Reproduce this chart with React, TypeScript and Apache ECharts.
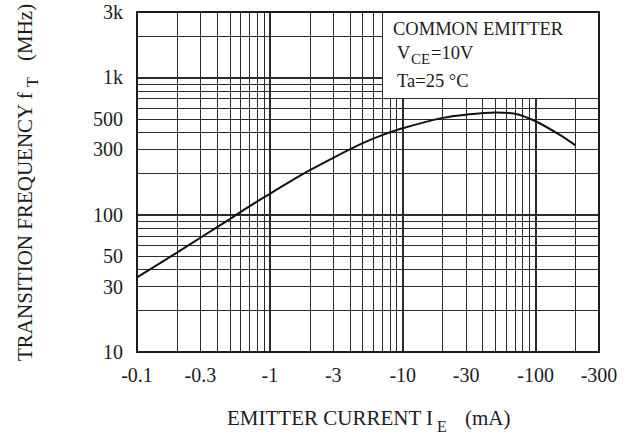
import React, { useEffect, useRef } from "react";
import * as echarts from "echarts";

// Emitter current magnitude (mA) — axis shows them as negative values
const currentMA = [0.1, 0.2, 0.3, 0.5, 0.7, 1, 1.5, 2, 3, 5, 7, 10, 20, 30, 50, 70, 100, 150, 200];
// Transition frequency fT (MHz)
const transitionMHz = [35, 53, 68, 93, 115, 142, 180, 211, 260, 332, 380, 427, 508, 536, 555, 545, 480, 385, 320];

const xLabelValues = [0.1, 0.3, 1, 3, 10, 30, 100, 300];
const xMinorLines = [0.2, 0.3, 0.4, 0.5, 0.6, 0.7, 0.8, 0.9, 2, 3, 4, 5, 6, 7, 8, 9, 20, 30, 40, 50, 60, 70, 80, 90, 200];
const xDecadeLines = [1, 10, 100];

const yLabelValues = [10, 30, 50, 100, 300, 500, 1000, 3000];
const yMinorLines = [20, 30, 40, 50, 60, 70, 80, 90, 200, 300, 400, 500, 600, 700, 800, 900, 2000];
const yDecadeLines = [100, 1000];

const FONT = "'Liberation Serif', 'Times New Roman', Times, serif";
const INK = "#1c1c1c";
const GRID = "#2b2b2b";

function fmtX(v: number): string {
  return "-" + String(Number(Number(v).toPrecision(3)));
}
function fmtY(v: number): string {
  const n = Number(Number(v).toPrecision(3));
  return n >= 1000 ? n / 1000 + "k" : String(n);
}

export default function App() {
  const ref = useRef<HTMLDivElement>(null);

  useEffect(() => {
    document.body.style.margin = "0";
    if (!ref.current) return;
    const chart = echarts.init(ref.current, undefined, { renderer: "svg" });

    const labelStyle = { fontFamily: FONT, fontSize: 20, color: INK };

    const option: any = {
      animation: false,
      backgroundColor: "#ffffff",
      grid: { left: 137, top: 12, right: 38, bottom: 86, containLabel: false, outerBoundsMode: "none" },
      xAxis: [
        {
          type: "log",
          logBase: 10,
          min: 0.1,
          max: 300,
          position: "bottom",
          axisLine: { show: true, onZero: false, lineStyle: { color: INK, width: 2 } },
          axisTick: { show: false, customValues: xMinorLines },
          axisLabel: {
            ...labelStyle,
            customValues: xLabelValues,
            formatter: fmtX,
            margin: 13,
            showMinLabel: true,
            showMaxLabel: true,
          },
          splitLine: { show: true, lineStyle: { color: GRID, width: 1 } },
          minorTick: { show: false },
          minorSplitLine: { show: false },
        },
        {
          type: "log",
          logBase: 10,
          min: 0.1,
          max: 300,
          position: "top",
          axisLine: { show: true, onZero: false, lineStyle: { color: INK, width: 2 } },
          axisTick: { show: false, customValues: xDecadeLines },
          axisLabel: { show: false },
          splitLine: { show: true, lineStyle: { color: GRID, width: 2 } },
        },
      ],
      yAxis: [
        {
          type: "log",
          logBase: 10,
          min: 10,
          max: 3000,
          position: "left",
          axisLine: { show: true, onZero: false, lineStyle: { color: INK, width: 2 } },
          axisTick: { show: false, customValues: yMinorLines },
          axisLabel: {
            ...labelStyle,
            customValues: yLabelValues,
            formatter: fmtY,
            margin: 14,
            showMinLabel: true,
            showMaxLabel: true,
          },
          splitLine: { show: true, lineStyle: { color: GRID, width: 1 } },
          minorTick: { show: false },
          minorSplitLine: { show: false },
        },
        {
          type: "log",
          logBase: 10,
          min: 10,
          max: 3000,
          position: "right",
          axisLine: { show: true, onZero: false, lineStyle: { color: INK, width: 2 } },
          axisTick: { show: false, customValues: yDecadeLines },
          axisLabel: { show: false },
          splitLine: { show: true, lineStyle: { color: GRID, width: 2 } },
        },
      ],
      series: [
        {
          type: "line",
          xAxisIndex: 0,
          yAxisIndex: 0,
          data: currentMA.map((x, i) => [x, transitionMHz[i]]),
          smooth: 0.3,
          showSymbol: false,
          lineStyle: { color: "#111", width: 2 },
          z: 5,
        },
      ],
      graphic: {
        elements: [
          // condition box (covers grid)
          { type: "rect", z: 100, shape: { x: 383, y: 13, width: 215, height: 85 }, style: { fill: "#ffffff" } },
          {
            type: "text", z: 101, x: 393, y: 29,
            style: { text: "COMMON EMITTER", fontFamily: FONT, fontSize: 18.5, fill: INK, verticalAlign: "middle", align: "left" },
          },
          {
            type: "text", z: 101, x: 397, y: 53,
            style: { text: "V", fontFamily: FONT, fontSize: 18.5, fill: INK, verticalAlign: "middle", align: "left" },
          },
          {
            type: "text", z: 101, x: 411, y: 59,
            style: { text: "CE", fontFamily: FONT, fontSize: 15, fill: INK, verticalAlign: "middle", align: "left" },
          },
          {
            type: "text", z: 101, x: 431, y: 53,
            style: { text: "=10V", fontFamily: FONT, fontSize: 18.5, fill: INK, verticalAlign: "middle", align: "left" },
          },
          {
            type: "text", z: 101, x: 397, y: 81,
            style: { text: "Ta=25 °C", fontFamily: FONT, fontSize: 18.5, fill: INK, verticalAlign: "middle", align: "left" },
          },
          // x-axis title
          {
            type: "text", z: 101, x: 227, y: 418,
            style: { text: "EMITTER CURRENT I", fontFamily: FONT, fontSize: 21, fill: INK, verticalAlign: "middle", align: "left" },
          },
          {
            type: "text", z: 101, x: 437, y: 426,
            style: { text: "E", fontFamily: FONT, fontSize: 16, fill: INK, verticalAlign: "middle", align: "left" },
          },
          {
            type: "text", z: 101, x: 465, y: 418,
            style: { text: "(mA)", fontFamily: FONT, fontSize: 21, fill: INK, verticalAlign: "middle", align: "left" },
          },
          // y-axis title (rotated)
          {
            type: "group", z: 101, x: 25, y: 361, rotation: Math.PI / 2,
            children: [
              {
                type: "text", x: 0, y: 0,
                style: { text: "TRANSITION FREQUENCY f", fontFamily: FONT, fontSize: 21, fill: INK, verticalAlign: "middle", align: "left" },
              },
              {
                type: "text", x: 274, y: 7,
                style: { text: "T", fontFamily: FONT, fontSize: 16, fill: INK, verticalAlign: "middle", align: "left" },
              },
              {
                type: "text", x: 300, y: 0,
                style: { text: "(MHz)", fontFamily: FONT, fontSize: 21, fill: INK, verticalAlign: "middle", align: "left" },
              },
            ],
          },
        ],
      },
    };

    chart.setOption(option);
    return () => chart.dispose();
  }, []);

  return <div ref={ref} style={{ width: 637, height: 438 }} />;
}
